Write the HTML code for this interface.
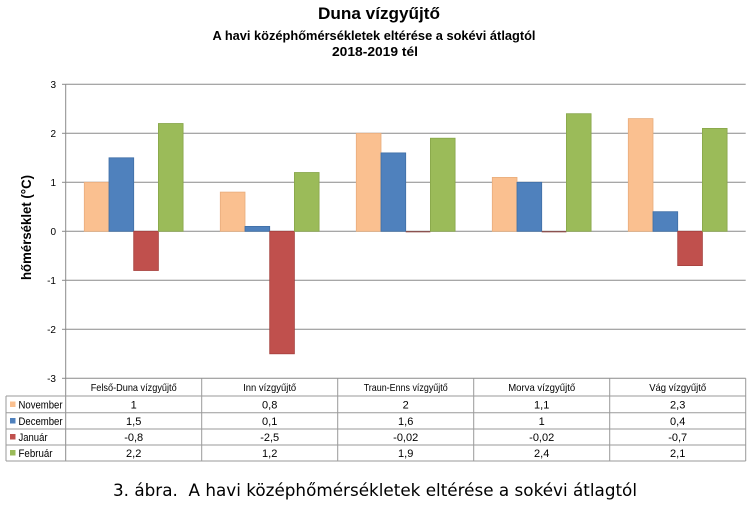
<!DOCTYPE html>
<html><head><meta charset="utf-8"><style>
html,body{margin:0;padding:0;background:#fff;}
svg{display:block;}
text{font-family:"Liberation Sans",sans-serif;fill:#000;}
</style></head><body>
<svg width="753" height="511" viewBox="0 0 753 511" xmlns="http://www.w3.org/2000/svg">
<rect width="753" height="511" fill="#fff"/>
<!-- titles -->
<text x="379" y="19" font-size="16.5" font-weight="bold" text-anchor="middle" textLength="122" lengthAdjust="spacingAndGlyphs">Duna vízgyűjtő</text>
<text x="374" y="40" font-size="13" font-weight="bold" text-anchor="middle" textLength="323" lengthAdjust="spacingAndGlyphs">A havi középhőmérsékletek eltérése a sokévi átlagtól</text>
<text x="375" y="56" font-size="13" font-weight="bold" text-anchor="middle" textLength="86" lengthAdjust="spacingAndGlyphs">2018-2019 tél</text>
<!-- gridlines -->
<g stroke="#8a8a8a" stroke-width="1">
<line x1="65.7" y1="84.3" x2="745.7" y2="84.3"/>
<line x1="65.7" y1="133.3" x2="745.7" y2="133.3"/>
<line x1="65.7" y1="182.3" x2="745.7" y2="182.3"/>
<line x1="65.7" y1="231.3" x2="745.7" y2="231.3"/>
<line x1="65.7" y1="280.3" x2="745.7" y2="280.3"/>
<line x1="65.7" y1="329.3" x2="745.7" y2="329.3"/>
<line x1="65.7" y1="378.3" x2="745.7" y2="378.3"/>
</g>
<!-- tick marks -->
<g stroke="#8a8a8a" stroke-width="1">
<line x1="62" y1="84.3" x2="65.7" y2="84.3"/>
<line x1="62" y1="133.3" x2="65.7" y2="133.3"/>
<line x1="62" y1="182.3" x2="65.7" y2="182.3"/>
<line x1="62" y1="231.3" x2="65.7" y2="231.3"/>
<line x1="62" y1="280.3" x2="65.7" y2="280.3"/>
<line x1="62" y1="329.3" x2="65.7" y2="329.3"/>
<line x1="62" y1="378.3" x2="65.7" y2="378.3"/>
</g>
<!-- tick labels -->
<g font-size="10" text-anchor="end">
<text x="56" y="88">3</text>
<text x="56" y="137">2</text>
<text x="56" y="186">1</text>
<text x="56" y="235">0</text>
<text x="56" y="284">-1</text>
<text x="56" y="333">-2</text>
<text x="56" y="382">-3</text>
</g>
<!-- y label -->
<text transform="translate(31,227.5) rotate(-90)" font-size="14" font-weight="bold" text-anchor="middle" textLength="105" lengthAdjust="spacingAndGlyphs">hőmérséklet (°C)</text>
<!-- bars -->
<g stroke-width="0.8">
<rect x="84.3" y="182.3" width="24.7" height="49" fill="#FAC090" stroke="#e8ad7c"/>
<rect x="109" y="157.8" width="24.7" height="73.5" fill="#4F81BD" stroke="#3f6ea6"/>
<rect x="133.7" y="231.3" width="24.7" height="39.2" fill="#C0504D" stroke="#a5403d"/>
<rect x="158.4" y="123.5" width="24.7" height="107.8" fill="#9BBB59" stroke="#87a64a"/>
<rect x="220.3" y="192.1" width="24.7" height="39.2" fill="#FAC090" stroke="#e8ad7c"/>
<rect x="245" y="226.4" width="24.7" height="4.9" fill="#4F81BD" stroke="#3f6ea6"/>
<rect x="269.7" y="231.3" width="24.7" height="122.5" fill="#C0504D" stroke="#a5403d"/>
<rect x="294.4" y="172.5" width="24.7" height="58.8" fill="#9BBB59" stroke="#87a64a"/>
<rect x="356.3" y="133.3" width="24.7" height="98" fill="#FAC090" stroke="#e8ad7c"/>
<rect x="381" y="152.9" width="24.7" height="78.4" fill="#4F81BD" stroke="#3f6ea6"/>
<rect x="405.7" y="231.3" width="24.7" height="1" fill="#8a3a38" stroke="none"/>
<rect x="430.4" y="138.2" width="24.7" height="93.1" fill="#9BBB59" stroke="#87a64a"/>
<rect x="492.3" y="177.4" width="24.7" height="53.9" fill="#FAC090" stroke="#e8ad7c"/>
<rect x="517" y="182.3" width="24.7" height="49" fill="#4F81BD" stroke="#3f6ea6"/>
<rect x="541.7" y="231.3" width="24.7" height="1" fill="#8a3a38" stroke="none"/>
<rect x="566.4" y="113.7" width="24.7" height="117.6" fill="#9BBB59" stroke="#87a64a"/>
<rect x="628.3" y="118.6" width="24.7" height="112.7" fill="#FAC090" stroke="#e8ad7c"/>
<rect x="653" y="211.7" width="24.7" height="19.6" fill="#4F81BD" stroke="#3f6ea6"/>
<rect x="677.7" y="231.3" width="24.7" height="34.3" fill="#C0504D" stroke="#a5403d"/>
<rect x="702.4" y="128.4" width="24.7" height="102.9" fill="#9BBB59" stroke="#87a64a"/>
</g>
<!-- y axis -->
<line x1="65.7" y1="84.3" x2="65.7" y2="461" stroke="#8a8a8a" stroke-width="1"/>
<!-- table lines -->
<g stroke="#9a9a9a" stroke-width="1">
<line x1="6" y1="396" x2="745.7" y2="396"/>
<line x1="6" y1="412.7" x2="745.7" y2="412.7"/>
<line x1="6" y1="429" x2="745.7" y2="429"/>
<line x1="6" y1="445" x2="745.7" y2="445"/>
<line x1="6" y1="461" x2="745.7" y2="461"/>
<line x1="6" y1="396" x2="6" y2="461"/>
<line x1="201.7" y1="378.3" x2="201.7" y2="461"/>
<line x1="337.7" y1="378.3" x2="337.7" y2="461"/>
<line x1="473.7" y1="378.3" x2="473.7" y2="461"/>
<line x1="609.7" y1="378.3" x2="609.7" y2="461"/>
<line x1="745.7" y1="378.3" x2="745.7" y2="461"/>
</g>
<!-- table header -->
<g font-size="10.5" text-anchor="middle">
<text x="133.7" y="391" textLength="86" lengthAdjust="spacingAndGlyphs">Felső-Duna vízgyűjtő</text>
<text x="269.7" y="391" textLength="53" lengthAdjust="spacingAndGlyphs">Inn vízgyűjtő</text>
<text x="405.7" y="391" textLength="84" lengthAdjust="spacingAndGlyphs">Traun-Enns vízgyűjtő</text>
<text x="541.7" y="391" textLength="67" lengthAdjust="spacingAndGlyphs">Morva vízgyűjtő</text>
<text x="677.7" y="391" textLength="57" lengthAdjust="spacingAndGlyphs">Vág vízgyűjtő</text>
</g>
<!-- legend column -->
<rect x="10" y="401.5" width="5.5" height="5.5" fill="#FAC090"/>
<rect x="10" y="418" width="5.5" height="5.5" fill="#4F81BD"/>
<rect x="10" y="434" width="5.5" height="5.5" fill="#C0504D"/>
<rect x="10" y="450" width="5.5" height="5.5" fill="#9BBB59"/>
<g font-size="11">
<text x="18.5" y="408.3" textLength="44" lengthAdjust="spacingAndGlyphs">November</text>
<text x="18.5" y="424.8" textLength="44" lengthAdjust="spacingAndGlyphs">December</text>
<text x="18.5" y="441" textLength="29" lengthAdjust="spacingAndGlyphs">Január</text>
<text x="18.5" y="457" textLength="34" lengthAdjust="spacingAndGlyphs">Február</text>
</g>
<!-- values -->
<g font-size="11" text-anchor="middle">
<text x="133.7" y="408.3">1</text>
<text x="269.7" y="408.3">0,8</text>
<text x="405.7" y="408.3">2</text>
<text x="541.7" y="408.3">1,1</text>
<text x="677.7" y="408.3">2,3</text>
<text x="133.7" y="424.8">1,5</text>
<text x="269.7" y="424.8">0,1</text>
<text x="405.7" y="424.8">1,6</text>
<text x="541.7" y="424.8">1</text>
<text x="677.7" y="424.8">0,4</text>
<text x="133.7" y="441">-0,8</text>
<text x="269.7" y="441">-2,5</text>
<text x="405.7" y="441">-0,02</text>
<text x="541.7" y="441">-0,02</text>
<text x="677.7" y="441">-0,7</text>
<text x="133.7" y="457">2,2</text>
<text x="269.7" y="457">1,2</text>
<text x="405.7" y="457">1,9</text>
<text x="541.7" y="457">2,4</text>
<text x="677.7" y="457">2,1</text>
</g>
<!-- caption -->
<text x="113" y="496" font-size="16.5" textLength="524" lengthAdjust="spacingAndGlyphs" style="font-family:'DejaVu Sans','Liberation Sans',sans-serif;">3. ábra.&#160; A havi középhőmérsékletek eltérése a sokévi átlagtól</text>
</svg>
</body></html>
